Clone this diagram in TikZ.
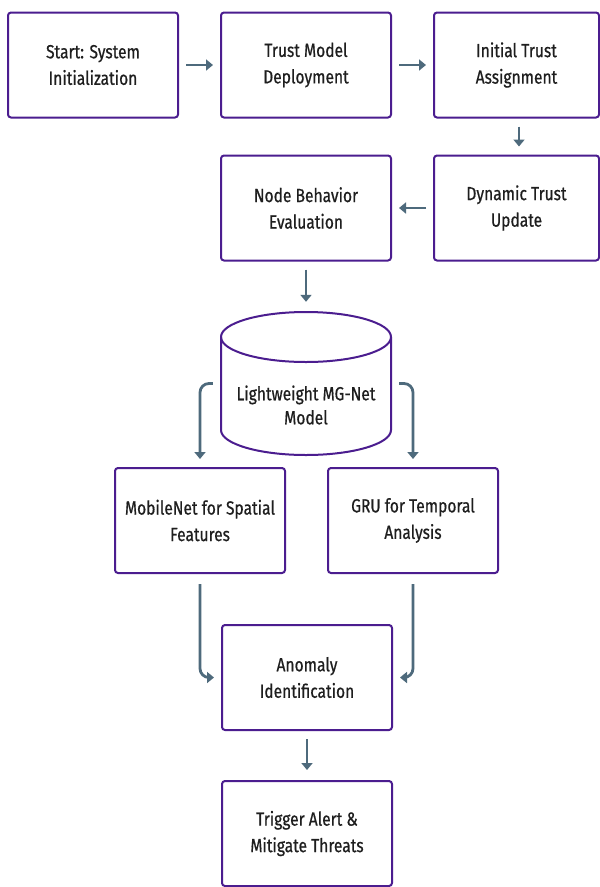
\documentclass[tikz,border=0pt]{standalone}
\usepackage{fontspec}
\setmainfont{Fira Sans}[FakeStretch=0.82, FakeBold=0.6]
\usetikzlibrary{arrows.meta}
\definecolor{bord}{HTML}{4B1D8F}
\definecolor{arrc}{HTML}{4E6A7C}
\definecolor{txt}{HTML}{1E1E1E}
\begin{document}
\begin{tikzpicture}[x=1pt,y=-1pt,
  box/.style={draw=bord, line width=2pt, rounded corners=3pt, fill=white,
    minimum width=170pt, minimum height=105pt, align=center, text=txt,
    font=\fontsize{19}{26.5}\selectfont, inner sep=0pt},
  arr/.style={draw=arrc, line width=2.8pt, -{Triangle[width=11pt,length=7pt]}},
  cyl/.style={draw=bord, line width=2pt, fill=white},
  lbl/.style={align=center, text=txt, font=\fontsize{19}{24}\selectfont, inner sep=0pt}]
\useasboundingbox[fill=white] (0,0) rectangle (600,887);

\node[box] (b1) at (93,65) {Start: System\\Initialization};
\node[box] (b2) at (306,65) {Trust Model\\Deployment};
\node[box, minimum width=165pt] (b3) at (516.5,65) {Initial Trust\\Assignment};
\node[box] (b4) at (306,208) {Node Behavior\\Evaluation};
\node[box, minimum width=165pt] (b5) at (516.5,208) {Dynamic Trust\\Update};

% cylinder
\node[minimum width=170pt, minimum height=143pt, inner sep=0pt] (mg) at (306,383.5) {};
\draw[cyl] (221,337) -- (221,430) arc[start angle=180, end angle=0, x radius=85, y radius=25]
  -- (391,337) arc[start angle=0, end angle=-180, x radius=85, y radius=25] -- cycle;
\draw[cyl, fill=none] (221,337) arc[start angle=180, end angle=0, x radius=85, y radius=25];
\node[lbl] (mgt) at (306,405) {Lightweight MG-Net\\Model};

\node[box] (mob) at (200,520.5) {MobileNet for Spatial\\Features};
\node[box] (gru) at (413,520.5) {GRU for Temporal\\Analysis};
\node[box] (anom) at (307,677.5) {Anomaly\\Identification};
\node[box] (trig) at (307,833.5) {Trigger Alert \&\\Mitigate Threats};

\draw[arr, shorten <=7pt, shorten >=7pt] (b1) -- (b2);
\draw[arr, shorten <=7pt, shorten >=7pt] (b2) -- (b3);
\draw[arr, shorten <=8pt, shorten >=8pt] ([xshift=2.5pt]b3.south) -- ([xshift=2.5pt]b5.north);
\draw[arr, shorten <=7pt, shorten >=7pt] (b5) -- (b4);
\draw[arr, shorten <=8pt, shorten >=10pt] (b4.south) -- (mg.north);
\draw[arr, rounded corners=9pt, shorten >=8pt] ([xshift=-8pt]mg.west) -| (mob.north);
\draw[arr, rounded corners=9pt, shorten >=8pt] ([xshift=8pt]mg.east) -| (gru.north);
\draw[arr, rounded corners=9pt, shorten >=7pt] ([yshift=-10pt]mob.south) |- (anom.west);
\draw[arr, rounded corners=9pt, shorten >=7pt] ([yshift=-10pt]gru.south) |- (anom.east);
\draw[arr, shorten <=8pt, shorten >=10pt] (anom.south) -- (trig.north);
\end{tikzpicture}
\end{document}
